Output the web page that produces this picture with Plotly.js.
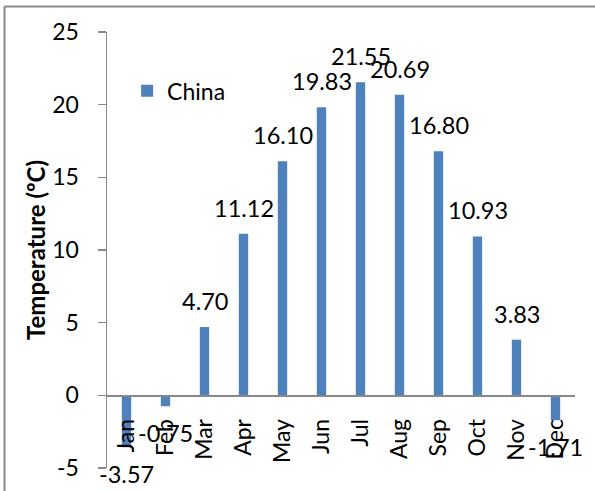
<!DOCTYPE html>
<html>
<head>
<meta charset="utf-8">
<script src="https://cdn.plot.ly/plotly-3.0.1.min.js"></script>
<style>html,body{margin:0;padding:0;background:#fff;}#chart{width:595px;height:491px;}</style>
</head>
<body>
<div id="chart"></div>
<script>
const months = ["Jan","Feb","Mar","Apr","May","Jun","Jul","Aug","Sep","Oct","Nov","Dec"];
const chinaTemps = [-3.57,-0.75,4.70,11.12,16.10,19.83,21.55,20.69,16.80,10.93,3.83,-1.71];
const seriesName = "China";
const yTickVals = [-5,0,5,10,15,20,25];
const yTickText = ["-5","0","5","10","15","20","25"];

const FONT = "Lato, 'Open Sans', sans-serif";
const labelAnnotations = chinaTemps.map((v, i) => ({
  x: months[i], y: v, xref: "x", yref: "y",
  text: v.toFixed(2), showarrow: false,
  yshift: v >= 0 ? 26 : -27,
  font: {family: FONT, size: 23.5, color: "#000"}
}));

const data = [{
  type: "bar", x: months, y: chinaTemps, name: seriesName,
  marker: {color: "#4F81BD"}, showlegend: true
}];

const layout = {
  width: 595, height: 491,
  margin: {l: 107, r: 20, t: 32, b: 23},
  paper_bgcolor: "#fff", plot_bgcolor: "#fff",
  bargap: 0.76,
  font: {family: FONT, size: 23, color: "#000"},
  xaxis: {
    type: "category", range: [-0.5, months.length - 0.5], anchor: "free", position: 5/30, automargin: false,
    showline: true, linecolor: "#888", linewidth: 1.5,
    ticks: "", tickangle: -90, showgrid: false, zeroline: false,
    tickfont: {family: FONT, size: 23, color: "#000"}, ticklabelstandoff: 13
  },
  yaxis: {
    range: [-5, 25], tickvals: yTickVals, ticktext: yTickText, showgrid: false, zeroline: false, automargin: false,
    showline: true, linecolor: "#888", linewidth: 1.5,
    ticks: "outside", ticklen: 8, tickcolor: "#888", tickwidth: 1.5,
    tickfont: {family: FONT, size: 23, color: "#000"}, ticklabelstandoff: 14,
    title: {text: "Temperature (ºC)", font: {family: FONT, size: 24, color: "#000", weight: "bold"}, standoff: 0}
  },
  legend: {x: 0.043, y: 0.865, xanchor: "left", yanchor: "middle", bgcolor: "rgba(0,0,0,0)",
           itemwidth: 30, font: {family: FONT, size: 23}},
  annotations: labelAnnotations,
  shapes: [
    {type: "line", xref: "paper", yref: "paper", x0: -0.219, x1: -0.219, y0: -0.2, y1: 1.0585, line: {color: "#898989", width: 2}},
    {type: "line", xref: "paper", yref: "paper", x0: -0.219, x1: 1.2, y0: 1.0585, y1: 1.0585, line: {color: "#898989", width: 2}}
  ]
};

Plotly.newPlot("chart", data, layout, {displayModeBar: false, staticPlot: true});
</script>
</body>
</html>
